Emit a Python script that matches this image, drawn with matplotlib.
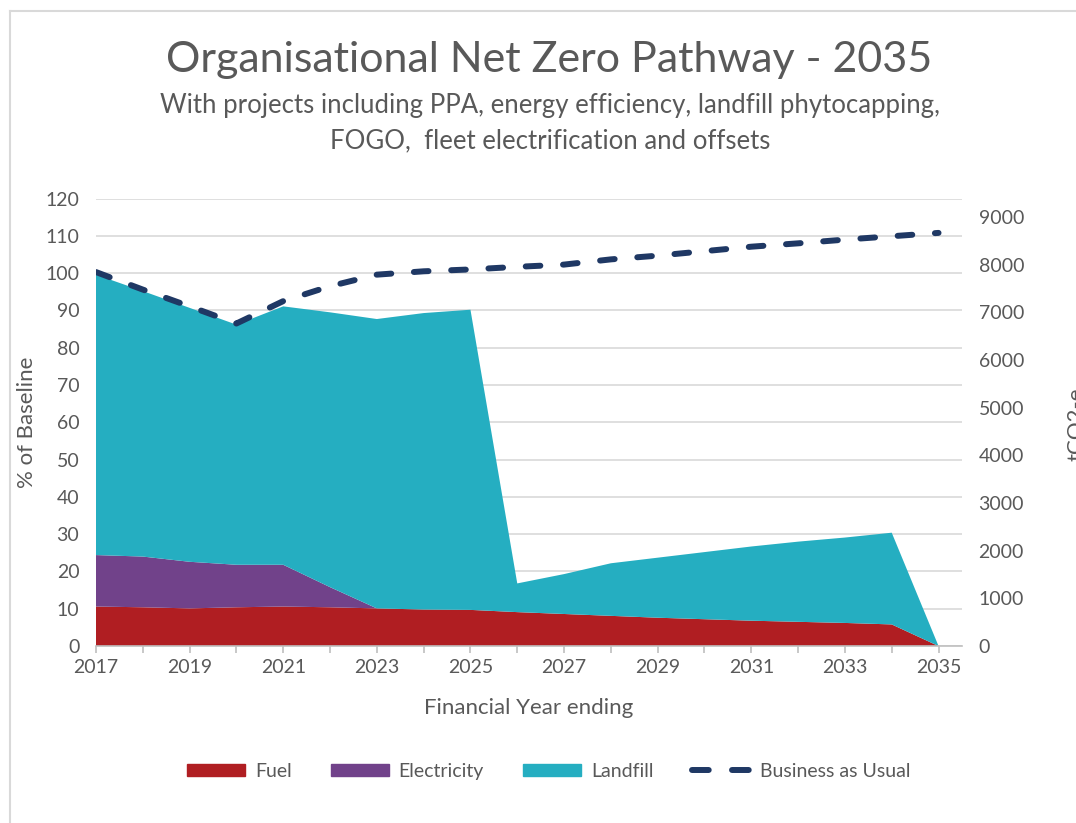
import matplotlib.pyplot as plt
import numpy as np
from matplotlib.patches import Patch
from matplotlib.lines import Line2D

plt.rcParams['font.family'] = ['Lato', 'DejaVu Sans']

# values (% of baseline)
years = list(range(2017, 2036))
fuel = [10.6, 10.4, 10.1, 10.4, 10.6, 10.4, 10.1, 9.8, 9.7, 9.1,
        8.6, 8.1, 7.6, 7.2, 6.8, 6.5, 6.2, 5.8, 0.0]
electricity = [13.8, 13.6, 12.5, 11.4, 11.2, 5.4, 0.0, 0.0, 0.0, 0.0,
               0.0, 0.0, 0.0, 0.0, 0.0, 0.0, 0.0, 0.0, 0.0]
landfill = [75.2, 71.2, 68.1, 64.4, 69.3, 73.7, 77.6, 79.5, 80.5, 7.7,
            10.7, 14.1, 16.1, 18.0, 19.9, 21.5, 22.9, 24.6, 0.0]
bau = [100.3, 95.6, 91.1, 86.5, 92.5, 96.5, 99.6, 100.5, 101.0, 101.7,
       102.3, 103.7, 104.7, 105.9, 107.1, 108.0, 109.0, 109.9, 110.8]

labels = ['Fuel', 'Electricity', 'Landfill', 'Business as Usual']
colors = ['#B01E22', '#71428A', '#25AEC1']
bau_color = '#1F3864'
txt = '#595959'
fs = 14

fig = plt.figure(figsize=(10.76, 8.23), dpi=100)
ax = fig.add_axes([0.0892, 0.215, 0.8048, 0.5437])

ax.stackplot(years, fuel, electricity, landfill, colors=colors, linewidth=0, zorder=2)
ax.plot(years, bau, color=bau_color, linewidth=4.3, dashes=(2.45, 3.8),
        dash_capstyle='round', zorder=3)

ax.set_xlim(2017, 2035.5)
ax.set_ylim(0, 120)
ax.set_yticks(np.arange(0, 121, 10))
ax.set_xticks(range(2017, 2036, 2))
ax.set_xticks(years, minor=True)
ax.grid(axis='y', color='#D9D9D9', linewidth=1.2, zorder=0)
ax.set_axisbelow(True)
for s in ['top', 'right', 'left']:
    ax.spines[s].set_visible(False)
ax.spines['bottom'].set_color('#BFBFBF')
ax.spines['bottom'].set_linewidth(1.2)
ax.spines['bottom'].set_zorder(4)
ax.tick_params(axis='y', length=0, labelsize=fs, labelcolor=txt, pad=12)
ax.tick_params(axis='x', which='both', length=5, color='#BFBFBF', width=1.2,
               labelsize=fs, labelcolor=txt, pad=4)
ax.set_ylabel('% of Baseline', fontsize=16, color=txt, labelpad=6)
ax.set_xlabel('Financial Year ending', fontsize=16, color=txt, labelpad=16)

# secondary axis in tonnes
ax2 = ax.twinx()
ax2.set_ylim(0, 9386)
ax2.set_yticks(np.arange(0, 9001, 1000))
for s in ax2.spines.values():
    s.set_visible(False)
ax2.tick_params(axis='y', length=0, labelsize=fs, labelcolor=txt, pad=12)
# the reference crops this label at the right edge
fig.text(0.991, 0.484, 'tCO2-e', rotation=90, fontsize=16, color=txt,
         ha='left', va='center')

fig.text(0.51, 0.927, 'Organisational Net Zero Pathway - 2035', fontsize=31,
         color=txt, ha='center', va='center')
fig.text(0.511, 0.872, 'With projects including PPA, energy efficiency, landfill phytocapping,',
         fontsize=18.5, color=txt, ha='center', va='center')
fig.text(0.511, 0.829, 'FOGO,  fleet electrification and offsets',
         fontsize=18.5, color=txt, ha='center', va='center')

# chart area border (only left and top show in the reference)
fig.add_artist(Line2D([0.0093, 0.0093], [0, 0.9866], color='#D9D9D9', linewidth=1.5))
fig.add_artist(Line2D([0.0093, 1], [0.9866, 0.9866], color='#D9D9D9', linewidth=1.5))

handles = [Patch(color=c) for c in colors]
handles.append(Line2D([0], [0], color=bau_color, linewidth=4.3, dashes=(2.8, 3.9),
                      dash_capstyle='round'))
fig.legend(handles, labels, loc='center', bbox_to_anchor=(0.51, 0.063), ncol=4,
           frameon=False, fontsize=fs, labelcolor=txt, handlelength=3.0,
           handleheight=0.6, columnspacing=2.0, handletextpad=0.5)

fig.savefig('out.png', dpi=100)
